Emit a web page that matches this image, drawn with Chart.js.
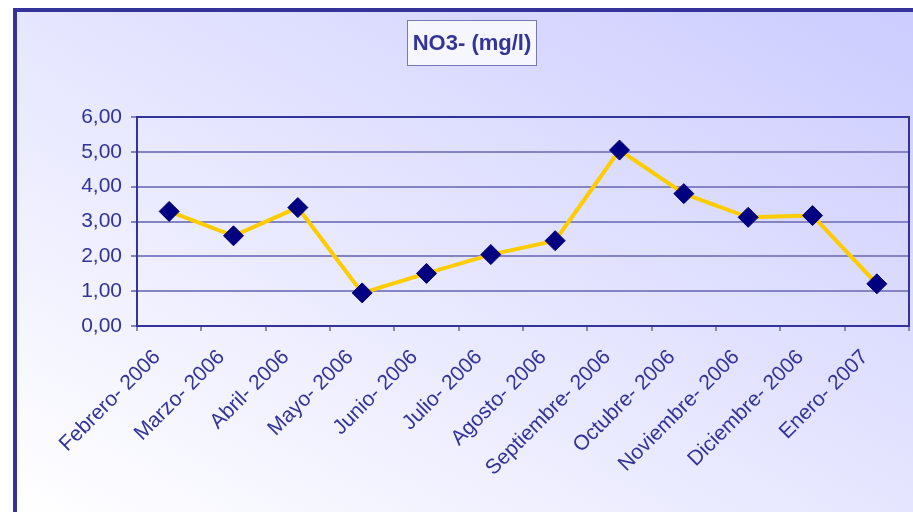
<!DOCTYPE html>
<html>
<head>
<meta charset="utf-8">
<title>NO3- (mg/l)</title>
<script src="https://cdn.jsdelivr.net/npm/chart.js@4.4.1/dist/chart.umd.min.js"></script>
<style>
  body { margin: 0; background: #ffffff; }
  canvas { display: block; }
</style>
</head>
<body>
<canvas id="no3Chart" width="913" height="512"></canvas>
<script>
// Chart data
const months = [
  "Febrero- 2006", "Marzo- 2006", "Abril- 2006", "Mayo- 2006",
  "Junio- 2006", "Julio- 2006", "Agosto- 2006", "Septiembre- 2006",
  "Octubre- 2006", "Noviembre- 2006", "Diciembre- 2006", "Enero- 2007",
];
const no3Values = [3.29, 2.59, 3.4, 0.95, 1.51, 2.05, 2.45, 5.05, 3.8, 3.12, 3.17, 1.21];
const chartTitle = "NO3- (mg/l)";

const navy = "#333399";
const fontFamily = "'Liberation Sans', Arial, sans-serif";

// Background gradient, outer frame, title box and plot frame
const frame = {
  id: "frame",
  beforeDraw(chart) {
    const ctx = chart.ctx;
    ctx.save();
    ctx.fillStyle = "#ffffff";
    ctx.fillRect(0, 0, chart.width, chart.height);
    const grad = ctx.createLinearGradient(15, 512, 442, -253);
    grad.addColorStop(0, "#ffffff");
    grad.addColorStop(1, "#ccccff");
    ctx.fillStyle = grad;
    ctx.fillRect(15, 10, chart.width - 15, chart.height - 10);
    ctx.strokeStyle = navy;
    ctx.lineWidth = 4;
    ctx.strokeRect(15, 10, chart.width + 20, chart.height + 20);

    // title box
    ctx.fillStyle = "#f6f6ff";
    ctx.fillRect(407, 20, 130, 46);
    ctx.strokeStyle = "#7777bb";
    ctx.lineWidth = 1;
    ctx.strokeRect(407.5, 20.5, 129, 45);
    ctx.fillStyle = navy;
    ctx.font = "bold 22px " + fontFamily;
    ctx.textAlign = "center";
    ctx.textBaseline = "middle";
    ctx.fillText(chartTitle, 472, 44);
    ctx.restore();
  },
  beforeDatasetsDraw(chart) {
    const { ctx, chartArea } = chart;
    ctx.save();
    ctx.strokeStyle = navy;
    ctx.lineWidth = 2;
    ctx.strokeRect(chartArea.left, chartArea.top, chartArea.right - chartArea.left, chartArea.bottom - chartArea.top);
    ctx.restore();
  },
};

new Chart(document.getElementById("no3Chart"), {
  type: "line",
  data: {
    labels: months,
    datasets: [
      {
        label: chartTitle,
        data: no3Values,
        borderColor: "#ffcc00",
        borderWidth: 4,
        pointStyle: "rectRot",
        pointRadius: 10,
        pointHoverRadius: 10,
        pointBackgroundColor: "#000080",
        pointBorderColor: "#000080",
        pointBorderWidth: 1,
        tension: 0,
      },
    ],
  },
  options: {
    responsive: false,
    animation: false,
    devicePixelRatio: 1,
    layout: {
      autoPadding: false,
      padding: { left: 0, top: 117, right: 4, bottom: 0 },
    },
    plugins: {
      legend: { display: false },
      title: { display: false },
      tooltip: { enabled: false },
    },
    scales: {
      x: {
        offset: true,
        afterFit: (scale) => {
          scale.height = 186;
          scale.paddingLeft = 0;
          scale.paddingRight = 0;
        },
        grid: {
          offset: true,
          drawOnChartArea: false,
          drawTicks: true,
          tickLength: 5,
          color: "#8888bb",
          lineWidth: 2,
        },
        border: { color: navy, width: 2 },
        ticks: {
          minRotation: 45,
          maxRotation: 45,
          autoSkip: false,
          padding: 14,
          labelOffset: -12,
          color: navy,
          font: { family: fontFamily, size: 21 },
        },
      },
      y: {
        min: 0,
        max: 6,
        afterFit: (scale) => { scale.width = 137; },
        grid: {
          color: "#8484c4",
          lineWidth: 2,
          tickLength: 6,
        },
        border: { color: navy, width: 2 },
        ticks: {
          stepSize: 1,
          padding: 9,
          color: navy,
          font: { family: fontFamily, size: 21 },
          callback: (value) => value.toFixed(2).replace(".", ","),
        },
      },
    },
  },
  plugins: [frame],
});
</script>
</body>
</html>
